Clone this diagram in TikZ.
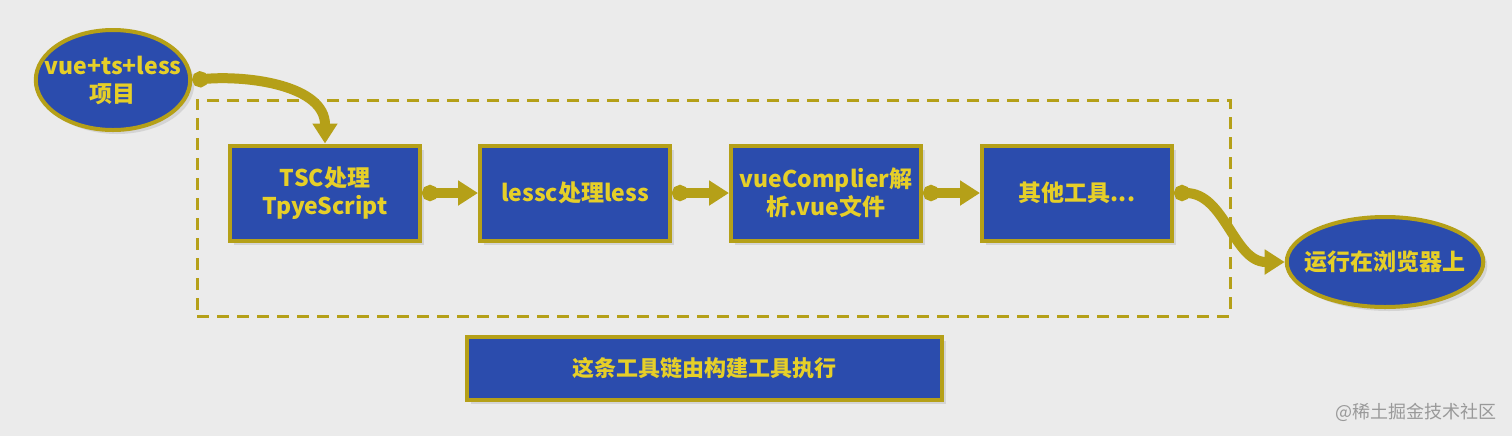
\documentclass[tikz,border=0pt]{standalone}
\usepackage{fontspec}
\setmainfont{Noto Sans CJK SC}
\usetikzlibrary{arrows.meta,shapes.geometric,shadows}

\definecolor{bgcol}{HTML}{EBEBEB}
\definecolor{boxblue}{HTML}{2B4CAD}
\definecolor{olive}{HTML}{B5A018}
\definecolor{txtyellow}{HTML}{E6CF28}

\begin{document}
\begin{tikzpicture}[
		x=0.5pt,y=-0.5pt,
		>={Triangle[length=10pt,width=12pt]},
		stepbox/.style ={rectangle,draw=olive,line width=2pt,fill=boxblue,
			minimum width=95pt,minimum height=47.5pt,inner sep=2pt,align=center,
			text=txtyellow,font=\fontsize{11.5}{14}\selectfont\bfseries,
			drop shadow={shadow xshift=2pt,shadow yshift=-2pt,fill=black!25}},
		endpoint/.style={ellipse,draw=olive,line width=2pt,fill=boxblue,
			inner ysep=0pt,align=center,text=txtyellow,
			font=\fontsize{11.5}{14}\selectfont\bfseries,
			drop shadow={shadow xshift=2pt,shadow yshift=-2pt,fill=black!25}},
		chainbox/.style={rectangle,draw=olive,dashed,dash pattern=on 6pt off 4pt,
			line width=1.5pt,minimum width=516.5pt,minimum height=108pt},
		flow/.style    ={draw=olive,line width=5pt,{Circle[length=8pt]}->}
		]

		% ---- background / bounding box ----
		\fill[bgcol] (0,0) rectangle (1512,436);

		% ---- dashed frame round the tool chain ----
		\node[chainbox] (chain) at (713.5,208) {};

		% ---- source project and target ----
		\node[endpoint,inner xsep=-7pt,minimum height=50pt] (project) at (113,80)
			{vue+ts+less\\项目};
		\node[endpoint,inner xsep=-5.5pt,minimum height=45pt] (browser) at (1385,262)
			{运行在浏览器上};

		% ---- tool chain steps ----
		\node[stepbox] (tsc)    at (325,193)  {TSC处理\\TpyeScript};
		\node[stepbox] (lessc)  at (575,193)  {lessc处理less};
		\node[stepbox] (vuec)   at (826,193)  {vueComplier解\\析.vue文件};
		\node[stepbox] (others) at (1077,193) {其他工具...};

		% ---- note ----
		\node[stepbox,minimum width=237.5pt,minimum height=31.5pt,
			font=\fontsize{11}{13}\selectfont\bfseries] (note) at (704.5,368.5)
			{这条工具链由构建工具执行};

		% ---- connectors ----
		\draw[flow] (project.east) to[out=5,in=90] (tsc.north);
		\draw[flow] (tsc)   -- (lessc);
		\draw[flow] (lessc) -- (vuec);
		\draw[flow] (vuec)  -- (others);
		\draw[flow] (others.east) to[out=0,in=180] (browser.west);

		% ---- watermark ----
		\node[text=black!40,font=\fontsize{9}{11}\selectfont] (mark) at (1416,412)
			{@稀土掘金技术社区};

	\end{tikzpicture}
\end{document}
